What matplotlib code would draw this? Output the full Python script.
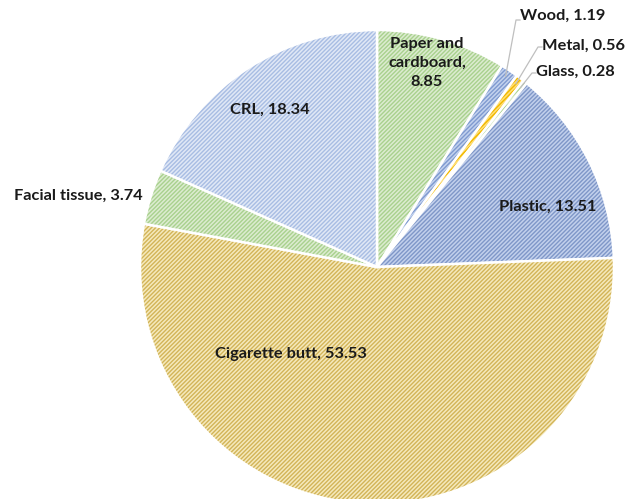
import matplotlib.pyplot as plt
import numpy as np
from matplotlib.patches import Wedge

plt.rcParams['font.family'] = ['Lato', 'DejaVu Sans']
plt.rcParams['hatch.linewidth'] = 1.0

# Data (clockwise from 12 o'clock)
labels = ['Paper and\ncardboard,\n8.85', 'Wood, 1.19', 'Metal, 0.56', 'Glass, 0.28',
          'Plastic, 13.51', 'Cigarette butt, 53.53', 'Facial tissue, 3.74', 'CRL, 18.34']
values = [8.85, 1.19, 0.56, 0.28, 13.51, 53.53, 3.74, 18.34]
base_colors = ['#dcecd0', '#c3d2ee', '#ffe07a', '#dcecd0', '#c2d0ec', '#f5e9bc', '#dcecd0', '#e0e8f6']
stripe_colors = ['#a9d18e', '#7f9ad0', '#f2b800', '#a9d18e', '#7f97c8', '#d2b458', '#a9d18e', '#a8bde3']

fig = plt.figure(figsize=(6.28, 4.99), dpi=100)
ax = fig.add_axes([0, 0, 1, 1])
ax.set_xlim(0, 628)
ax.set_ylim(0, 499)
ax.set_aspect('equal')
ax.axis('off')

cx, cy, r = 377, 232, 237
total = sum(values)
start = 90.0
angles = []
for v, bc, sc in zip(values, base_colors, stripe_colors):
    sweep = 360.0 * v / total
    t1, t2 = start - sweep, start
    ax.add_patch(Wedge((cx, cy), r, t1, t2, facecolor=bc, edgecolor=sc, hatch='////////', linewidth=0))
    ax.add_patch(Wedge((cx, cy), r, t1, t2, fill=False, edgecolor='white', linewidth=1.8))
    angles.append((t1 + t2) / 2)
    start = t1

fs = 11.8
kw = dict(fontsize=fs, fontweight='bold', color='#1a1a1a')
# inside labels
ax.text(427, 499 - 63, labels[0], ha='center', va='center', linespacing=1.45, **kw)
ax.text(548, 499 - 207, labels[4], ha='center', va='center', **kw)
ax.text(291, 499 - 354, labels[5], ha='center', va='center', **kw)
ax.text(270, 499 - 110, labels[7], ha='center', va='center', **kw)
ax.text(143, 499 - 196, labels[6], ha='right', va='center', **kw)

# small slices with leader lines
small = [(1, (516, 499 - 20), (520, 499 - 16)),
         (2, (538, 499 - 47), (542, 499 - 46)),
         (3, (532, 499 - 73), (536, 499 - 72))]
for i, knee, txt in small:
    a = np.deg2rad(angles[i])
    px, py = cx + r * 0.97 * np.cos(a), cy + r * 0.97 * np.sin(a)
    ax.plot([px, knee[0], knee[0] + 4], [py, knee[1], knee[1]], color='#bfbfbf', lw=0.9)
    ax.text(txt[0], txt[1], labels[i], ha='left', va='center', **kw)

fig.savefig('out.png', dpi=100)
